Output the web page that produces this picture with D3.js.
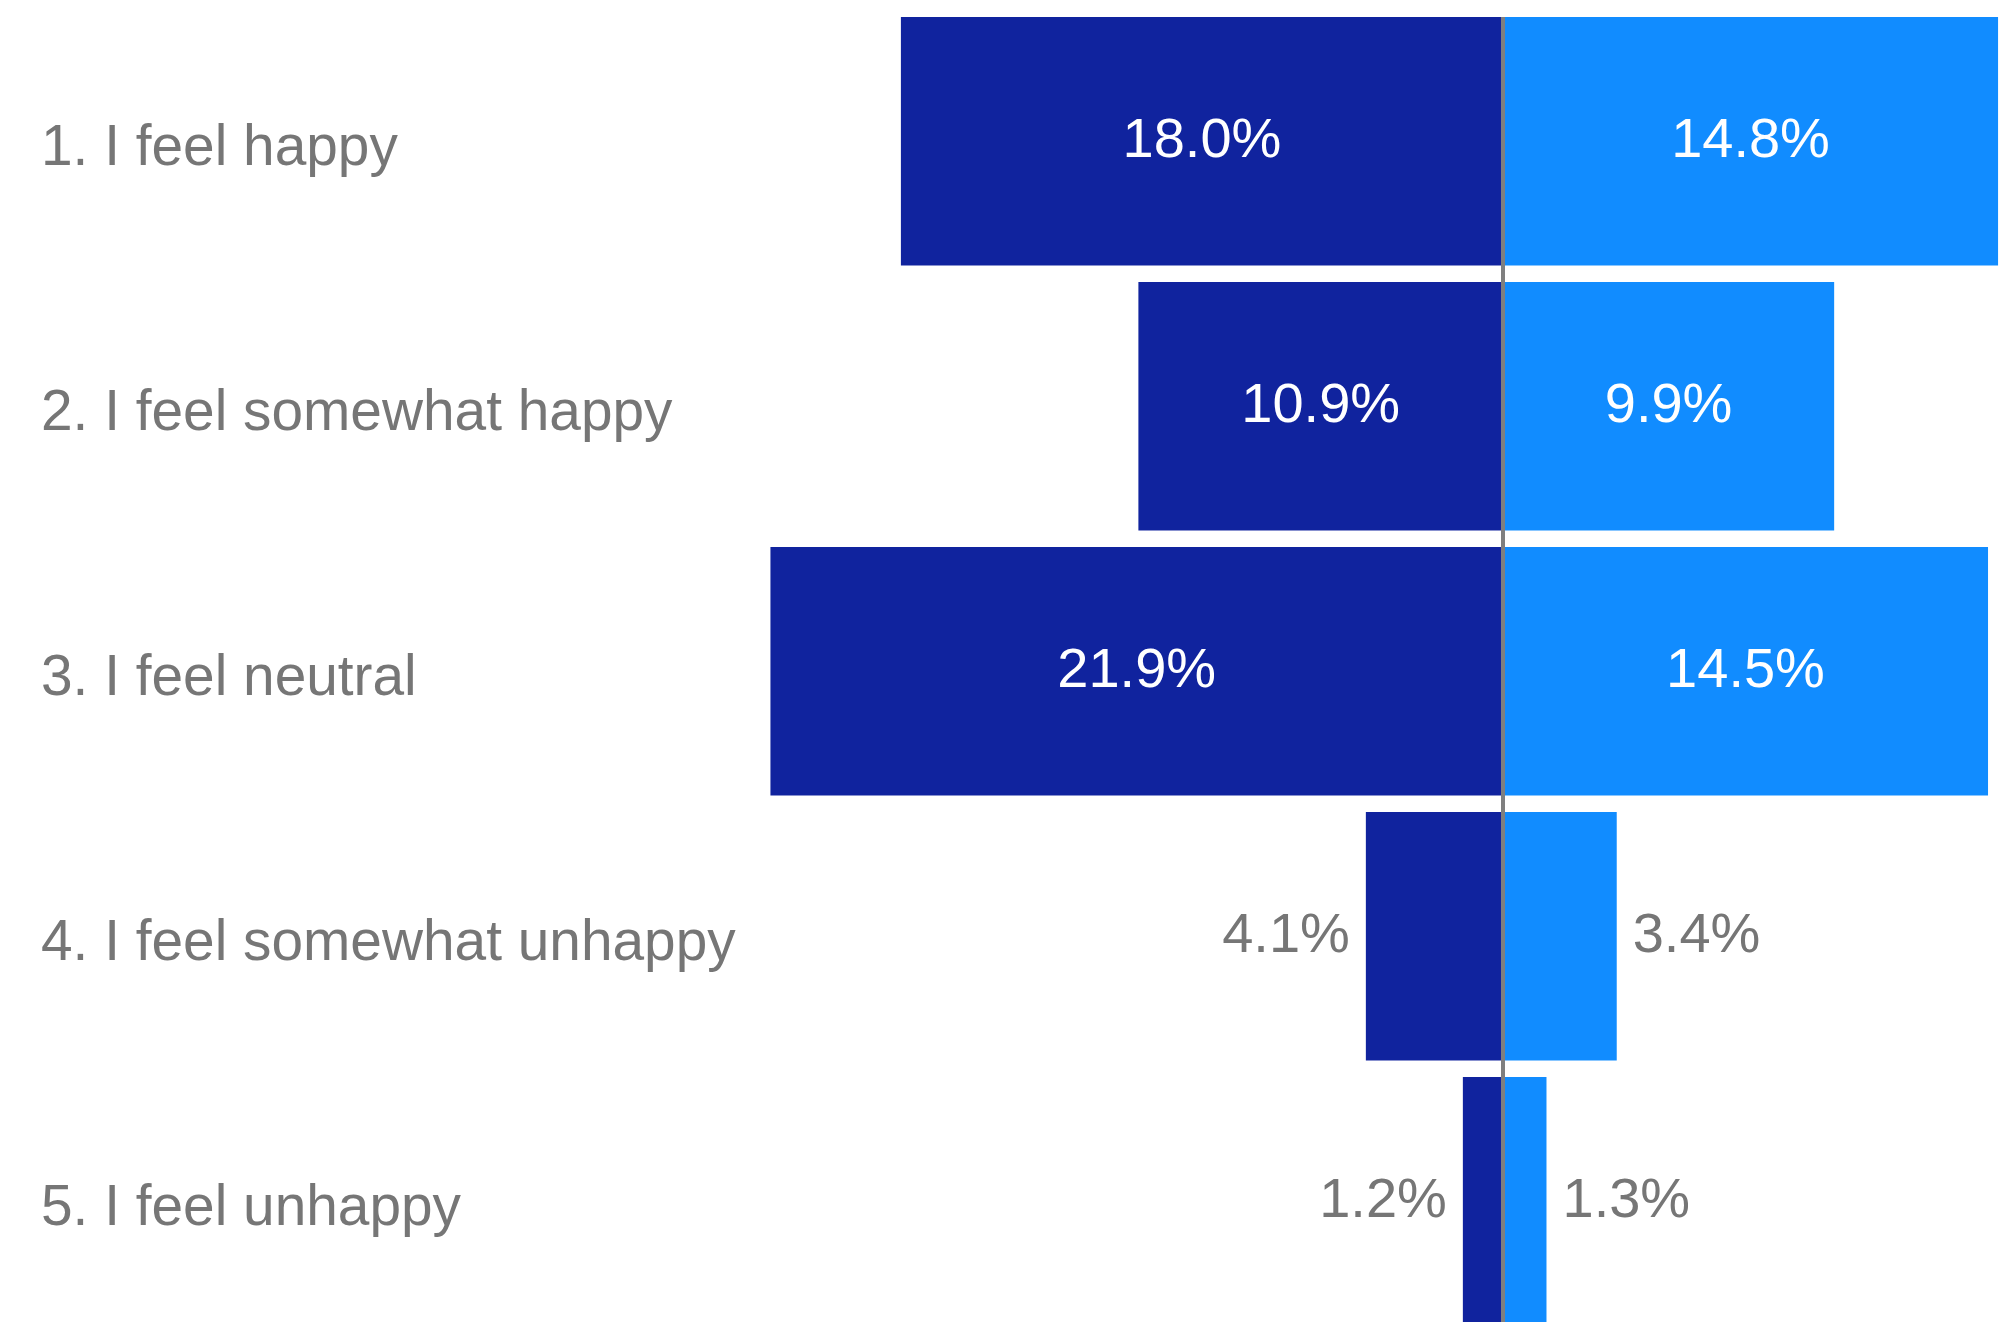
<!DOCTYPE html>
<html>
<head>
<meta charset="utf-8">
<script src="https://cdn.jsdelivr.net/npm/d3@7"></script>
<style>
  html, body { margin: 0; padding: 0; background: #ffffff; }
  svg { display: block; }
  text { font-family: "Liberation Sans", Arial, sans-serif; }
</style>
</head>
<body>
<svg id="chart" width="2003" height="1322"></svg>
<script>
// Survey responses, two groups shown back to back
const categories = [
  "1. I feel happy",
  "2. I feel somewhat happy",
  "3. I feel neutral",
  "4. I feel somewhat unhappy",
  "5. I feel unhappy"
];
const leftValues = [18.0, 10.9, 21.9, 4.1, 1.2];
const rightValues = [14.8, 9.9, 14.5, 3.4, 1.3];

const W = 2003, H = 1322;
const centerX = 1503;
const pxPerPct = 33.45;
const darkColor = "#10239E";
const lightColor = "#118CFF";
const greyText = "#767676";
const insideMin = 5; // values below this get their label outside the bar

const svg = d3.select("#chart");

const y = d3.scaleBand()
  .domain(categories)
  .range([8.75, 8.75 + 265 * categories.length])
  .paddingInner(0.0623)
  .paddingOuter(0.0623 / 2);

const xLeft = d3.scaleLinear().domain([0, 1]).range([centerX, centerX - pxPerPct]);
const xRight = d3.scaleLinear().domain([0, 1]).range([centerX, centerX + pxPerPct]);

const rows = categories.map((c, i) => ({ cat: c, l: leftValues[i], r: rightValues[i] }));
const fmt = v => d3.format(".1f")(v) + "%";

// left (dark) bars
svg.append("g").selectAll("rect").data(rows).join("rect")
  .attr("x", d => xLeft(d.l))
  .attr("y", d => y(d.cat))
  .attr("width", d => xLeft(0) - xLeft(d.l))
  .attr("height", y.bandwidth())
  .attr("fill", darkColor);

// right (light) bars
svg.append("g").selectAll("rect").data(rows).join("rect")
  .attr("x", xRight(0))
  .attr("y", d => y(d.cat))
  .attr("width", d => xRight(d.r) - xRight(0))
  .attr("height", y.bandwidth())
  .attr("fill", lightColor);

// centre divider
svg.append("line")
  .attr("x1", centerX).attr("x2", centerX)
  .attr("y1", y(categories[0])).attr("y2", H)
  .attr("stroke", "#7f7f7f").attr("stroke-width", 4);

// category labels
svg.append("g").selectAll("text").data(rows).join("text")
  .attr("x", 41)
  .attr("y", d => y(d.cat) + y.bandwidth() / 2 + 24)
  .attr("font-size", 56.8)
  .attr("fill", greyText)
  .text(d => d.cat);

// value labels, left group
svg.append("g").selectAll("text").data(rows).join("text")
  .attr("x", d => d.l >= insideMin ? (xLeft(d.l) + xLeft(0)) / 2 : xLeft(d.l) - 16)
  .attr("y", d => y(d.cat) + y.bandwidth() / 2 + 16)
  .attr("text-anchor", d => d.l >= insideMin ? "middle" : "end")
  .attr("font-size", 56)
  .attr("fill", d => d.l >= insideMin ? "#ffffff" : greyText)
  .text(d => fmt(d.l));

// value labels, right group
svg.append("g").selectAll("text").data(rows).join("text")
  .attr("x", d => d.r >= insideMin ? (xRight(d.r) + xRight(0)) / 2 : xRight(d.r) + 16)
  .attr("y", d => y(d.cat) + y.bandwidth() / 2 + 16)
  .attr("text-anchor", d => d.r >= insideMin ? "middle" : "start")
  .attr("font-size", 56)
  .attr("fill", d => d.r >= insideMin ? "#ffffff" : greyText)
  .text(d => fmt(d.r));
</script>
</body>
</html>
